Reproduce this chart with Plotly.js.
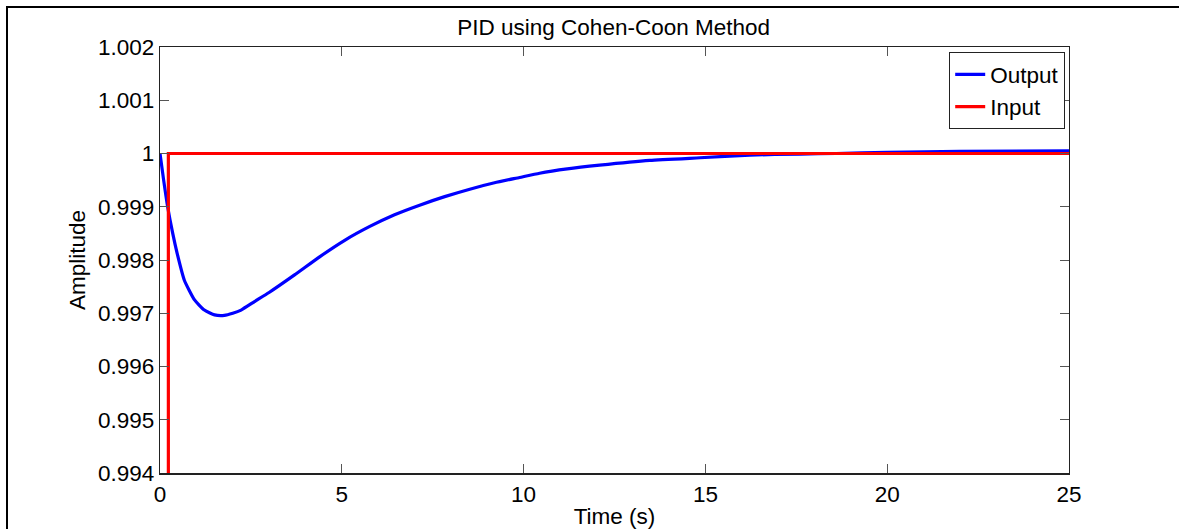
<!DOCTYPE html>
<html>
<head>
<meta charset="utf-8">
<script src="https://cdn.plot.ly/plotly-3.0.1.min.js"></script>
<style>
html,body{margin:0;padding:0;background:#fff;overflow:hidden;}
#wrap{position:relative;width:1179px;height:529px;}
#chart{position:absolute;left:0;top:0;width:1179px;height:529px;}
#frame{position:absolute;left:6px;top:6px;width:1200px;height:600px;border-left:2px solid #000;border-top:2px solid #000;pointer-events:none;box-sizing:border-box;}
</style>
</head>
<body>
<div id="wrap"><div id="chart"></div><div id="frame"></div></div>
<script>
// Output response
const outputTime = [0, 0.1, 0.21, 0.35, 0.47, 0.67, 0.95, 1.22, 1.5, 1.77, 2.0, 2.23, 2.6, 3.0, 3.7, 4.39, 5.08, 5.77, 6.45, 7.14, 7.83, 8.52, 9.2, 9.89, 10.44, 11.2, 12.09, 13.47, 14.85, 16.22, 17.6, 18.6, 20.0, 22.0, 25.0];
const outputValue = [1.0, 0.9995, 0.999, 0.9985, 0.99813, 0.99762, 0.99725, 0.99706, 0.99697, 0.99696, 0.997, 0.99706, 0.99722, 0.99739, 0.99772, 0.99806, 0.99837, 0.99863, 0.99885, 0.99903, 0.99919, 0.99933, 0.99945, 0.99955, 0.99963, 0.99971, 0.99978, 0.99987, 0.99992, 0.99997, 0.99999, 1.0, 1.00002, 1.00004, 1.00005];
// Input step
const inputTime = [0, 0.23, 0.23, 25];
const inputValue = [0, 0, 1, 1];
// Axis ticks
const xTickVals = [0, 5, 10, 15, 20, 25];
const yTickVals = [0.994, 0.995, 0.996, 0.997, 0.998, 0.999, 1.0, 1.001, 1.002];
const yTickText = ['0.994', '0.995', '0.996', '0.997', '0.998', '0.999', '1', '1.001', '1.002'];

const FONT = 'Liberation Sans, Arial, sans-serif';
const FS = 22.5;

const traces = [
  {x: outputTime, y: outputValue, name: 'Output', type: 'scatter', mode: 'lines',
   line: {color: '#0000ff', width: 3.2, shape: 'spline', smoothing: 0.5}},
  {x: inputTime, y: inputValue, name: 'Input', type: 'scatter', mode: 'lines',
   line: {color: '#ff0000', width: 3.2}}
];

const layout = {
  width: 1179, height: 529,
  margin: {l: 160, r: 110, t: 47, b: 56, pad: 0},
  paper_bgcolor: '#ffffff', plot_bgcolor: '#ffffff',
  font: {family: FONT, size: FS, color: '#000'},
  showlegend: true,
  title: {text: 'PID using Cohen-Coon Method', font: {family: FONT, size: FS, color: '#000'},
          x: 0.5205, xref: 'container', xanchor: 'center', y: 1 - 27/529, yref: 'container', yanchor: 'middle'},
  xaxis: {
    range: [0, 25], tickvals: xTickVals, ticks: 'inside', ticklen: 9, tickwidth: 1, tickcolor: '#555',
    showline: true, linecolor: '#222', linewidth: 1.5, mirror: 'allticks', showgrid: false, zeroline: false,
    tickfont: {family: FONT, size: FS, color: '#000'}, ticklabelstandoff: 0,
    title: {text: 'Time (s)', font: {family: FONT, size: FS, color: '#000'}, standoff: 2},
    automargin: false, fixedrange: true
  },
  yaxis: {
    range: [0.994, 1.002], tickvals: yTickVals, ticktext: yTickText, ticks: 'inside', ticklen: 9, tickwidth: 1, tickcolor: '#555',
    showline: true, linecolor: '#222', linewidth: 1.2, mirror: 'allticks', showgrid: false, zeroline: false,
    tickfont: {family: FONT, size: FS, color: '#000'}, ticklabelstandoff: 0,
    title: {text: 'Amplitude', font: {family: FONT, size: FS, color: '#000'}, standoff: 6},
    automargin: false, fixedrange: true
  },
  legend: {
    x: 0.9956, xanchor: 'right', y: 0.988, yanchor: 'top',
    bgcolor: '#ffffff', bordercolor: '#222', borderwidth: 1.2,
    font: {family: FONT, size: FS, color: '#000'},
    itemwidth: 30, tracegroupgap: 0
  }
};

Plotly.newPlot('chart', traces, layout, {displayModeBar: false, staticPlot: true});
</script>
</body>
</html>
